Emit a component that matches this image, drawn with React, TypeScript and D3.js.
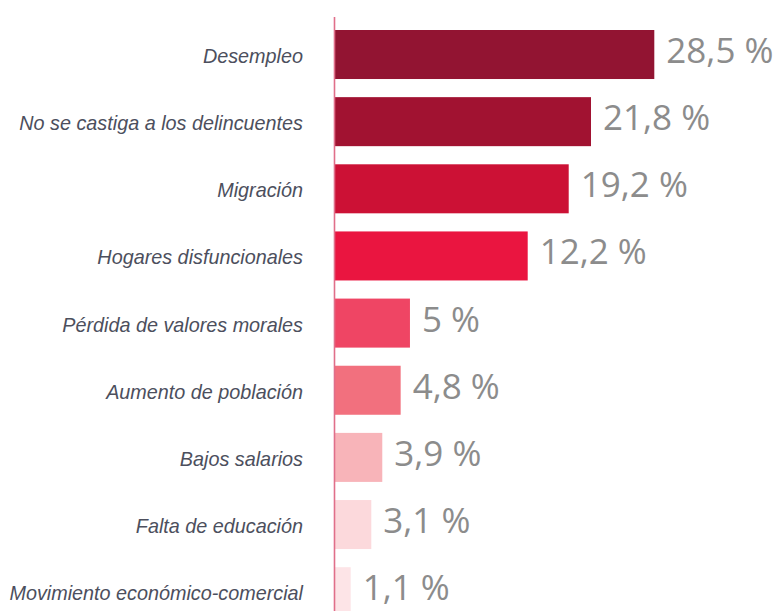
import React from "react";
import * as d3 from "d3";

const categories = [
  "Desempleo",
  "No se castiga a los delincuentes",
  "Migración",
  "Hogares disfuncionales",
  "Pérdida de valores morales",
  "Aumento de población",
  "Bajos salarios",
  "Falta de educación",
  "Movimiento económico-comercial",
];

// value labels as printed
const valueLabels = ["28,5 %", "21,8 %", "19,2 %", "12,2 %", "5 %", "4,8 %", "3,9 %", "3,1 %", "1,1 %"];

// bar lengths as drawn in the picture (in % units)
const barLengths = [28.5, 22.85, 20.86, 17.2, 6.69, 5.86, 4.22, 3.24, 1.4];

const barColors = [
  "#921432",
  "#a11231",
  "#cc1135",
  "#ea1540",
  "#ef4564",
  "#f2707e",
  "#f8b4b9",
  "#fcd9dc",
  "#fde4e7",
];

const W = 782;
const H = 611;

export default function App() {
  const x = d3.scaleLinear().domain([0, 28.5]).range([335, 654.3]);
  const y = d3
    .scaleBand<string>()
    .domain(categories)
    .range([30, 616.2])
    .paddingInner(0.27)
    .paddingOuter(0);
  const bw = y.bandwidth();

  return (
    <svg
      width={W}
      height={H}
      style={{ position: "absolute", left: 0, top: 0, background: "#fff" }}
    >
      {categories.map((c, i) => {
        const y0 = y(c) as number;
        const cy = y0 + bw / 2;
        const xEnd = x(barLengths[i]);
        return (
          <g key={c}>
            <rect x={x(0)} y={y0} width={xEnd - x(0)} height={bw} fill={barColors[i]} />
            <text
              x={303}
              y={cy + 8.5}
              textAnchor="end"
              fontFamily="'Liberation Sans', Arial, sans-serif"
              fontStyle="italic"
              fontSize={19.8}
              fill="#4c4f5d"
            >
              {c}
            </text>
            <text
              x={xEnd + 12}
              y={cy + 8.5}
              textAnchor="start"
              fontFamily="'Open Sans', sans-serif"
              fontSize={35}
              fill="#8c8c8c"
            >
              {valueLabels[i]}
            </text>
          </g>
        );
      })}
      <line x1={334.5} x2={334.5} y1={17} y2={H} stroke="#e06f8a" strokeWidth={1.6} />
    </svg>
  );
}
